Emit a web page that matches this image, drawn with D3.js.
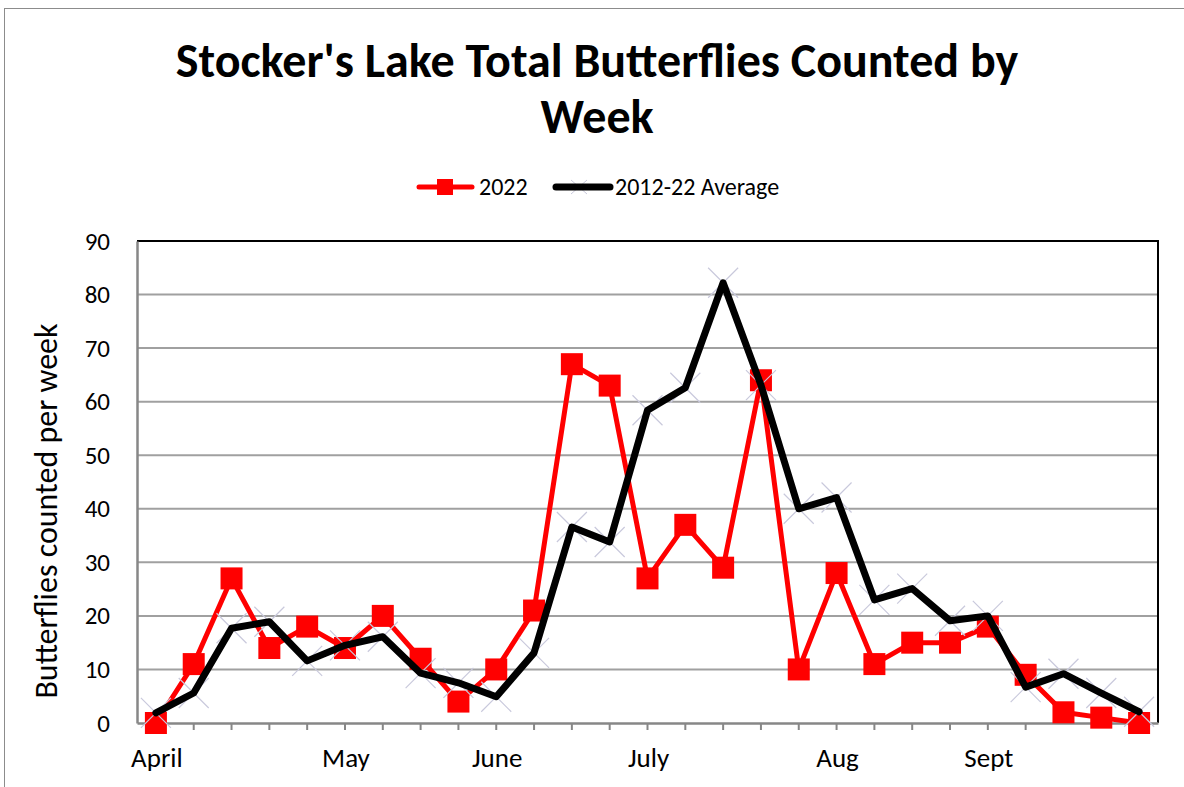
<!DOCTYPE html>
<html>
<head>
<meta charset="utf-8">
<script src="https://cdn.jsdelivr.net/npm/d3@7"></script>
<style>
	body { margin: 0; background: #fff; }
	svg text { font-family: Carlito, Calibri, Lato, "Noto Sans", sans-serif; fill: #000; }
</style>
</head>
<body>
<div id="chart"></div>
<script>
// weekly counts, April to end of Sept
const weeks = d3.range(27);
const counts2022 = [0, 11, 27, 14, 18, 14, 20, 12, 4, 10, 21, 67, 63, 27, 37, 29, 64, 10, 28, 11, 15, 15, 18, 9, 2, 1, 0];
const average = [1.9, 5.6, 17.7, 18.9, 11.6, 14.5, 16.1, 9.3, 7.5, 4.9, 13.1, 36.6, 33.8, 58.4, 62.6, 82.2, 63.1, 40, 42.1, 23, 25.1, 19.1, 20, 6.7, 9.2, 5.6, 2.1];
const monthLabels = [
	{ week: 0, label: "April" },
	{ week: 5, label: "May" },
	{ week: 9, label: "June" },
	{ week: 13, label: "July" },
	{ week: 18, label: "Aug" },
	{ week: 22, label: "Sept" }
];
const tickWeeks = d3.range(1, 24);
const yTicks = d3.range(0, 91, 10);

const width = 1184;
const height = 787;
const plot = { left: 137, right: 1158, top: 241, bottom: 723 };

const svg = d3.select("#chart").append("svg")
	.attr("width", width)
	.attr("height", height);

// chart frame
svg.append("rect")
	.attr("x", 4.5).attr("y", 8.5)
	.attr("width", width).attr("height", height)
	.attr("fill", "none")
	.attr("stroke", "#8c8c8c");

const x = d3.scaleBand().domain(weeks).range([plot.left, plot.right]).paddingInner(0).paddingOuter(0);
const cx = d => x(d) + x.bandwidth() / 2;
const y = d3.scaleLinear().domain([0, 90]).range([plot.bottom, plot.top]);

// title
const title = svg.append("text")
	.attr("text-anchor", "middle")
	.style("font-weight", "bold").style("font-size", "48px");
title.append("tspan").attr("x", 597).attr("y", 77).text("Stocker's Lake Total Butterflies Counted by");
title.append("tspan").attr("x", 597).attr("y", 133).text("Week");

// gridlines
svg.append("g")
	.selectAll("line")
	.data(yTicks.filter(v => v > 0 && v < 90))
	.join("line")
	.attr("x1", plot.left).attr("x2", plot.right)
	.attr("y1", d => y(d)).attr("y2", d => y(d))
	.attr("stroke", "#a0a0a0").attr("stroke-width", 2);

// plot border top + right
svg.append("path")
	.attr("d", `M${plot.left},${y(90)}H${plot.right}V${plot.bottom}`)
	.attr("fill", "none").attr("stroke", "#000").attr("stroke-width", 2);

// y axis
const yAxis = svg.append("g")
	.attr("transform", `translate(${plot.left},0)`)
	.call(d3.axisLeft(y).tickValues(yTicks).tickSize(0).tickPadding(27).tickFormat(d3.format("d")));
yAxis.select(".domain").attr("stroke", "#878787").attr("stroke-width", 2.5);
yAxis.selectAll("text").style("font-size", "25px").attr("font-family", null);

// x axis
const xAxis = svg.append("g")
	.attr("transform", `translate(0,${plot.bottom})`)
	.call(d3.axisBottom(x).tickValues(tickWeeks).tickSize(7).tickSizeOuter(0).tickFormat(""));
xAxis.select(".domain").attr("stroke", "#878787").attr("stroke-width", 2.5);
xAxis.selectAll(".tick line").attr("stroke", "#878787").attr("stroke-width", 2);

svg.append("g")
	.selectAll("text")
	.data(monthLabels)
	.join("text")
	.attr("x", d => cx(d.week) + 1)
	.attr("y", 767)
	.attr("text-anchor", "middle")
	.style("font-size", "27px")
	.text(d => d.label);

// y axis title
svg.append("text")
	.attr("transform", `translate(57,511) rotate(-90)`)
	.attr("text-anchor", "middle")
	.style("font-size", "32px")
	.text("Butterflies counted per week");

// 2022 series
const line = d3.line().x((d, i) => cx(i)).y(d => y(d));

svg.append("path")
	.datum(counts2022)
	.attr("d", line)
	.attr("fill", "none").attr("stroke", "#ff0000").attr("stroke-width", 5)
	.attr("stroke-linejoin", "round");

const sq = 22;
svg.append("g")
	.selectAll("rect")
	.data(counts2022)
	.join("rect")
	.attr("x", (d, i) => cx(i) - sq / 2)
	.attr("y", d => y(d) - sq / 2)
	.attr("width", sq).attr("height", sq)
	.attr("fill", "#ff0000");

// average series: x markers behind the line
const xm = 15;
svg.append("g")
	.selectAll("path")
	.data(average)
	.join("path")
	.attr("d", (d, i) => `M${cx(i) - xm},${y(d) - xm}L${cx(i) + xm},${y(d) + xm}M${cx(i) - xm},${y(d) + xm}L${cx(i) + xm},${y(d) - xm}`)
	.attr("stroke", "#c9c9dc").attr("stroke-width", 1.2).attr("fill", "none");

svg.append("path")
	.datum(average)
	.attr("d", line)
	.attr("fill", "none").attr("stroke", "#000").attr("stroke-width", 7)
	.attr("stroke-linejoin", "round").attr("stroke-linecap", "round");

// legend
const legend = svg.append("g");
legend.append("line")
	.attr("x1", 419).attr("x2", 472).attr("y1", 187).attr("y2", 187)
	.attr("stroke", "#ff0000").attr("stroke-width", 5).attr("stroke-linecap", "round");
legend.append("rect")
	.attr("x", 437).attr("y", 179).attr("width", 16).attr("height", 16)
	.attr("fill", "#ff0000");
legend.append("text")
	.attr("x", 479).attr("y", 195)
	.style("font-size", "24px")
	.text("2022");
legend.append("path")
	.attr("d", "M571,180L587,194M571,194L587,180")
	.attr("stroke", "#c9c9dc").attr("stroke-width", 1);
legend.append("line")
	.attr("x1", 556).attr("x2", 610).attr("y1", 187).attr("y2", 187)
	.attr("stroke", "#000").attr("stroke-width", 7).attr("stroke-linecap", "round");
legend.append("text")
	.attr("x", 615).attr("y", 195)
	.style("font-size", "24px")
	.text("2012-22 Average");
</script>
</body>
</html>
